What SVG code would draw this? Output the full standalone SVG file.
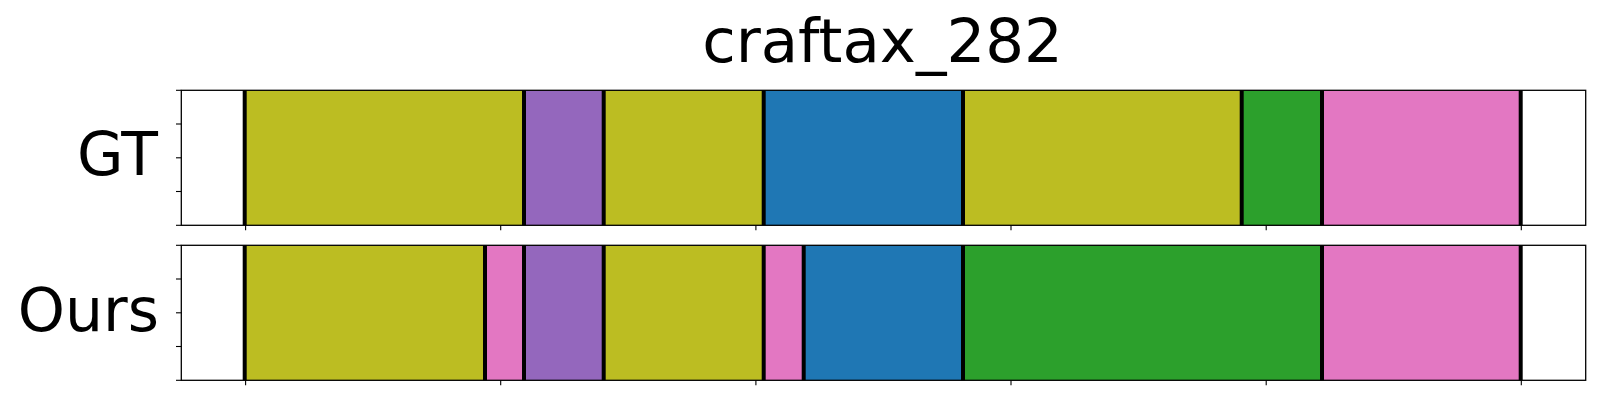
<svg xmlns="http://www.w3.org/2000/svg" width="1600" height="400" viewBox="0 0 1600 400">
<style>
.t{font-family:"DejaVu Sans",sans-serif;fill:#000}
.ol{fill:#bcbd22}.pu{fill:#9467bd}.bl{fill:#1f77b4}.gr{fill:#2ca02c}.pk{fill:#e377c2}
.b{stroke:#000;stroke-width:4}
.sp{fill:none;stroke:#000;stroke-width:1.3}
.tk{stroke:#000;stroke-width:1.1}
</style>
<rect width="1600" height="400" fill="#fff"/>
<text class="t" x="882.5" y="61.7" font-size="61" text-anchor="middle">craftax_282</text>
<g id="gt-row">
<text class="t" x="158" y="175" font-size="60" text-anchor="end">GT</text>
<rect class="ol" x="244.7" y="90.3" width="279.3" height="135"/>
<rect class="pu" x="524" y="90.3" width="79.7" height="135"/>
<rect class="ol" x="603.7" y="90.3" width="160" height="135"/>
<rect class="bl" x="763.7" y="90.3" width="199.3" height="135"/>
<rect class="ol" x="963" y="90.3" width="278.7" height="135"/>
<rect class="gr" x="1241.7" y="90.3" width="80.3" height="135"/>
<rect class="pk" x="1322" y="90.3" width="198.7" height="135"/>
<g class="b">
<line x1="244.7" y1="90.3" x2="244.7" y2="225.3"/>
<line x1="524" y1="90.3" x2="524" y2="225.3"/>
<line x1="603.7" y1="90.3" x2="603.7" y2="225.3"/>
<line x1="763.7" y1="90.3" x2="763.7" y2="225.3"/>
<line x1="963" y1="90.3" x2="963" y2="225.3"/>
<line x1="1241.7" y1="90.3" x2="1241.7" y2="225.3"/>
<line x1="1322" y1="90.3" x2="1322" y2="225.3"/>
<line x1="1520.7" y1="90.3" x2="1520.7" y2="225.3"/>
</g>
<rect class="sp" x="181.3" y="90.3" width="1404.4" height="135"/>
<g class="tk">
<line x1="176" y1="90.3" x2="181.3" y2="90.3"/>
<line x1="176" y1="124" x2="181.3" y2="124"/>
<line x1="176" y1="157.8" x2="181.3" y2="157.8"/>
<line x1="176" y1="191.5" x2="181.3" y2="191.5"/>
<line x1="176" y1="225.3" x2="181.3" y2="225.3"/>
<line x1="245.6" y1="225.3" x2="245.6" y2="230.3"/>
<line x1="500.7" y1="225.3" x2="500.7" y2="230.3"/>
<line x1="755.9" y1="225.3" x2="755.9" y2="230.3"/>
<line x1="1011" y1="225.3" x2="1011" y2="230.3"/>
<line x1="1266.2" y1="225.3" x2="1266.2" y2="230.3"/>
<line x1="1521.3" y1="225.3" x2="1521.3" y2="230.3"/>
</g>
</g>
<g id="ours-row">
<text class="t" x="159" y="330.7" font-size="60" text-anchor="end">Ours</text>
<rect class="ol" x="244.7" y="245.3" width="240.3" height="135"/>
<rect class="pk" x="485" y="245.3" width="39" height="135"/>
<rect class="pu" x="524" y="245.3" width="79.7" height="135"/>
<rect class="ol" x="603.7" y="245.3" width="160" height="135"/>
<rect class="pk" x="763.7" y="245.3" width="40" height="135"/>
<rect class="bl" x="803.7" y="245.3" width="159.3" height="135"/>
<rect class="gr" x="963" y="245.3" width="359" height="135"/>
<rect class="pk" x="1322" y="245.3" width="198.7" height="135"/>
<g class="b">
<line x1="244.7" y1="245.3" x2="244.7" y2="380.3"/>
<line x1="485" y1="245.3" x2="485" y2="380.3"/>
<line x1="524" y1="245.3" x2="524" y2="380.3"/>
<line x1="603.7" y1="245.3" x2="603.7" y2="380.3"/>
<line x1="763.7" y1="245.3" x2="763.7" y2="380.3"/>
<line x1="803.7" y1="245.3" x2="803.7" y2="380.3"/>
<line x1="963" y1="245.3" x2="963" y2="380.3"/>
<line x1="1322" y1="245.3" x2="1322" y2="380.3"/>
<line x1="1520.7" y1="245.3" x2="1520.7" y2="380.3"/>
</g>
<rect class="sp" x="181.3" y="245.3" width="1404.4" height="135"/>
<g class="tk">
<line x1="176" y1="245.3" x2="181.3" y2="245.3"/>
<line x1="176" y1="279" x2="181.3" y2="279"/>
<line x1="176" y1="312.8" x2="181.3" y2="312.8"/>
<line x1="176" y1="346.5" x2="181.3" y2="346.5"/>
<line x1="176" y1="380.3" x2="181.3" y2="380.3"/>
<line x1="245.6" y1="380.3" x2="245.6" y2="385.3"/>
<line x1="500.7" y1="380.3" x2="500.7" y2="385.3"/>
<line x1="755.9" y1="380.3" x2="755.9" y2="385.3"/>
<line x1="1011" y1="380.3" x2="1011" y2="385.3"/>
<line x1="1266.2" y1="380.3" x2="1266.2" y2="385.3"/>
<line x1="1521.3" y1="380.3" x2="1521.3" y2="385.3"/>
</g>
</g>
<g id="connectors"/>
</svg>
